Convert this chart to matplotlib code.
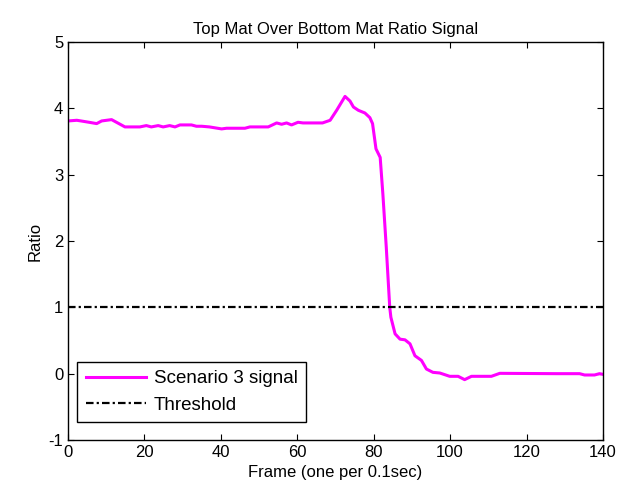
import matplotlib
matplotlib.use('Agg')
import matplotlib.pyplot as plt

plt.rcParams['font.family'] = ['Liberation Sans', 'DejaVu Sans']
plt.rcParams['axes.unicode_minus'] = False

# Scenario 3 ratio signal
frames = [0, 2.3, 3.4, 5.5, 7.5, 8.8, 11.4, 14.9, 18.8, 20.5, 21.8, 23.6, 24.9,
          26.6, 28, 29.3, 32.3, 33.6, 35, 37, 40.2, 41.5, 46.3, 47.6, 52.4, 54.6,
          55.9, 57.2, 58.5, 60.2, 61.5, 66.6, 68.6, 70.3, 72.5, 73.8, 74.7, 76,
          77.7, 79, 79.7, 80.6, 81.7, 82.4, 83.3, 84.2, 84.5, 85.6, 86.9, 88.2,
          89.5, 90.8, 92.5, 93.8, 95.5, 97.3, 99.9, 102.1, 103.8, 105.6, 110.8,
          113, 127.8, 133.9, 135.2, 137.8, 139.1, 140]
ratio = [3.81, 3.82, 3.81, 3.79, 3.77, 3.81, 3.83, 3.72, 3.72, 3.74, 3.72, 3.74,
         3.72, 3.74, 3.72, 3.75, 3.75, 3.73, 3.73, 3.72, 3.69, 3.70, 3.70, 3.72,
         3.72, 3.78, 3.76, 3.78, 3.75, 3.79, 3.78, 3.78, 3.82, 3.97, 4.18, 4.11,
         4.02, 3.97, 3.93, 3.86, 3.77, 3.39, 3.26, 2.71, 1.90, 1.00, 0.85, 0.60,
         0.52, 0.51, 0.45, 0.27, 0.20, 0.07, 0.02, 0.01, -0.04, -0.04, -0.09,
         -0.04, -0.04, 0.005, 0.0, 0.0, -0.02, -0.02, 0.0, -0.01]
threshold = 1

fig = plt.figure(figsize=(6.34, 4.92), dpi=100)
ax = fig.add_axes([0.1073, 0.1057, 0.8437, 0.8089])

ax.plot(frames, ratio, color='#ff00ff', linewidth=2.2, label='Scenario 3 signal')
ax.axhline(threshold, color='black', linestyle=(0, (3.4, 1.4, 1, 1.4)),
           linewidth=1.6, label='Threshold')

ax.set_xlim(0, 140)
ax.set_ylim(-1, 5)
ax.set_xticks(range(0, 141, 20))
ax.set_yticks(range(-1, 6))
ax.tick_params(direction='in', top=True, right=True, labelsize=12, length=4)
for s in ax.spines.values():
    s.set_linewidth(1.0)

ax.set_title('Top Mat Over Bottom Mat Ratio Signal', fontsize=12)
ax.set_xlabel('Frame (one per 0.1sec)', fontsize=12)
ax.set_ylabel('Ratio', fontsize=12)

leg = ax.legend(loc='lower left', fontsize=13.5, handlelength=3.2,
                handletextpad=0.45, borderpad=0.45,
                fancybox=False, edgecolor='black', framealpha=1,
                borderaxespad=0, bbox_to_anchor=(0.017, 0.045))
leg.get_frame().set_linewidth(1.0)

fig.savefig('out.png', dpi=100)
